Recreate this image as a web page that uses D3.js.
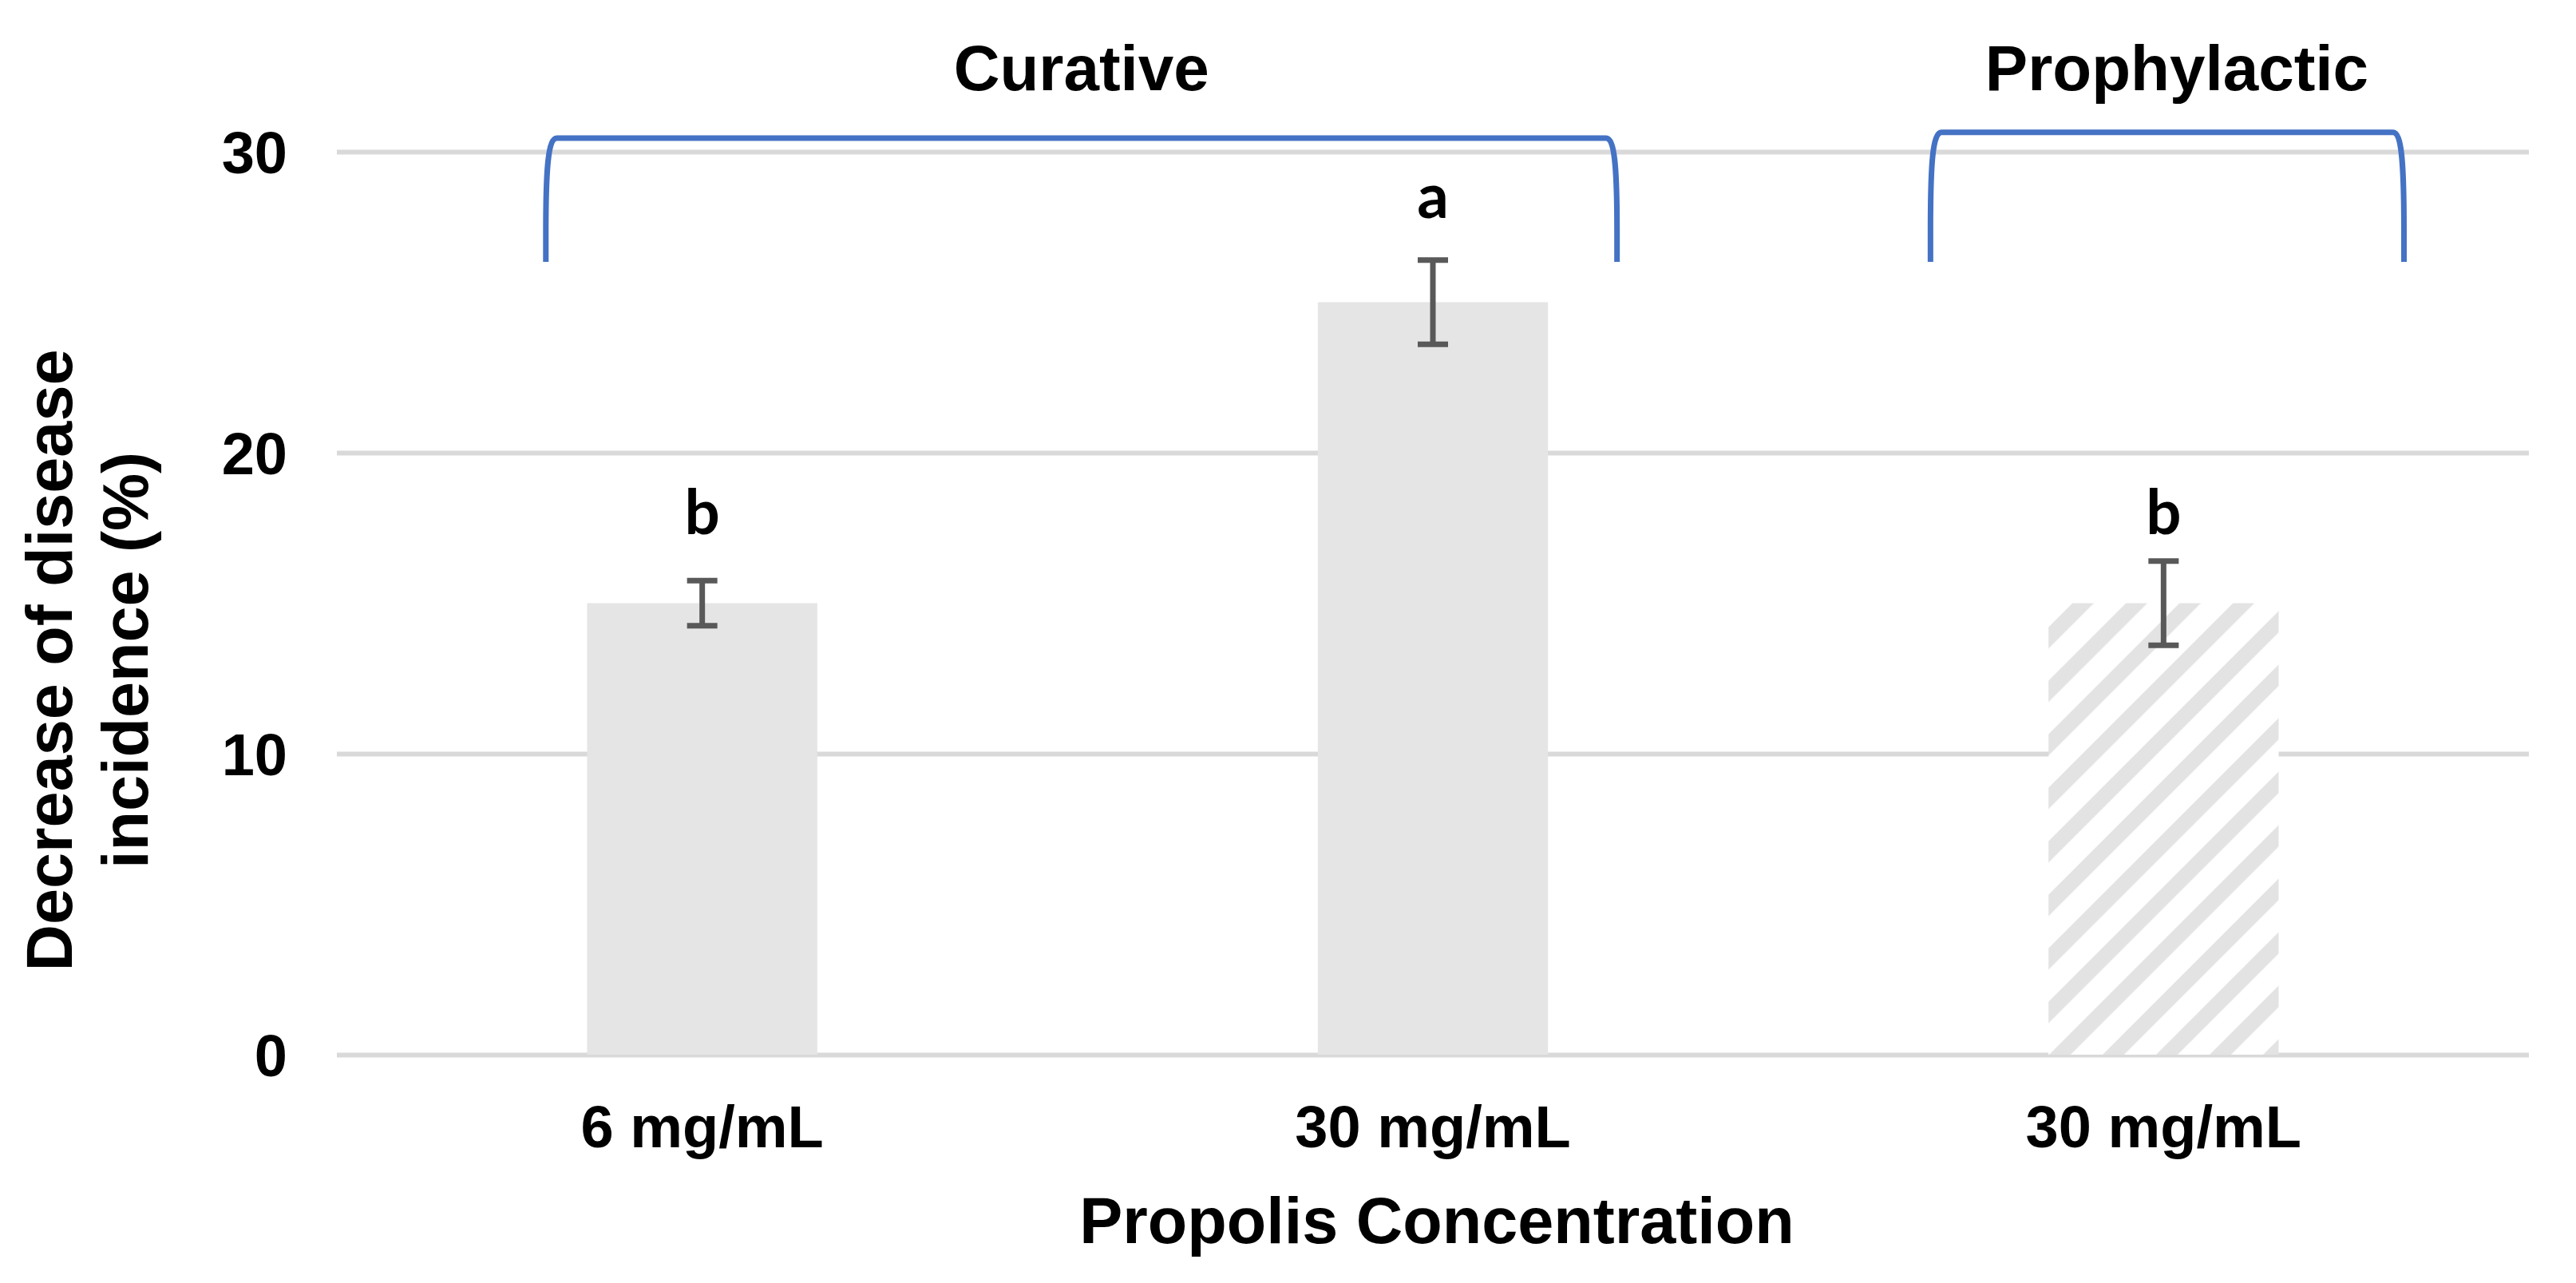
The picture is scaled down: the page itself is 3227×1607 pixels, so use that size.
<!DOCTYPE html>
<html>
<head>
<meta charset="utf-8">
<script src="https://cdn.jsdelivr.net/npm/d3@7"></script>
<style>
  html, body { margin: 0; padding: 0; background: #fff; }
  svg { display: block; }
</style>
</head>
<body>
<svg id="chart" width="3227" height="1607"></svg>
<script>
// ---- data ----
const categories = ["6 mg/mL", "30 mg/mL", "30 mg/mL"];
const values = [15.0, 25.0, 15.0];
const errors = [0.75, 1.4, 1.4];
const letters = ["b", "a", "b"];
const letterLevels = [17.3, 27.8, 17.3];     // data units where the letter sits
const hatched = [false, false, true];
const yTicks = [0, 10, 20, 30];
const groupLabels = ["Curative", "Prophylactic"];
const groupFrom = [-0.214, 1.681];            // in category-index units
const groupTo = [1.252, 2.329];
const groupTop = [30.45, 30.64];
const groupBottom = 26.34;
const groupTitleLevel = 32.04;

// ---- layout ----
const W = 3227, H = 1607;
const plotLeft = 422, plotRight = 3168;
const svg = d3.select("#chart");

const y = d3.scaleLinear().domain([0, 30]).range([1321, 190]);
const idx = d3.range(categories.length);
const x = d3.scaleBand().domain(idx).range([plotLeft, plotRight])
  .paddingInner(0.685).paddingOuter(0.3425);
const xc = d3.scaleLinear().domain([-0.5, categories.length - 0.5]).range([plotLeft, plotRight]);

// hatch pattern
const defs = svg.append("defs");
const per = 47.4;
const pat = defs.append("pattern")
  .attr("id", "hatch").attr("patternUnits", "userSpaceOnUse")
  .attr("width", per).attr("height", per)
  .attr("patternTransform", "rotate(45)");
pat.append("rect").attr("width", per).attr("height", per).attr("fill", "#ffffff");
pat.append("rect").attr("x", 0).attr("y", 0).attr("width", 19).attr("height", per).attr("fill", "#e3e3e3");

// gridlines
const yAxis = d3.axisLeft(y).tickValues(yTicks).tickSize(-(plotRight - plotLeft)).tickPadding(62).tickFormat(d3.format("d"));
const gy = svg.append("g").attr("transform", `translate(${plotLeft},0)`).call(yAxis);
gy.select(".domain").remove();
gy.selectAll(".tick line").attr("stroke", "#d9d9d9").attr("stroke-width", 6);
gy.selectAll(".tick text")
  .attr("font-family", "'Liberation Sans', Arial, sans-serif")
  .attr("font-weight", "bold").attr("font-size", 74).attr("fill", "#000")
  .attr("dy", "0.36em");

// bars
svg.append("g").selectAll("rect").data(idx).join("rect")
  .attr("x", i => x(i))
  .attr("y", i => y(values[i]))
  .attr("width", x.bandwidth())
  .attr("height", i => y(0) - y(values[i]))
  .attr("fill", i => hatched[i] ? "url(#hatch)" : "#e5e5e5");

// error bars
const eg = svg.append("g").attr("stroke", "#595959").attr("stroke-width", 7);
idx.forEach(i => {
  const cx = x(i) + x.bandwidth() / 2;
  const hi = y(values[i] + errors[i]), lo = y(values[i] - errors[i]);
  eg.append("line").attr("x1", cx).attr("x2", cx).attr("y1", hi).attr("y2", lo);
  eg.append("line").attr("x1", cx - 19).attr("x2", cx + 19).attr("y1", hi).attr("y2", hi);
  eg.append("line").attr("x1", cx - 19).attr("x2", cx + 19).attr("y1", lo).attr("y2", lo);
});

// significance letters
svg.append("g").selectAll("text").data(idx).join("text")
  .attr("x", i => x(i) + x.bandwidth() / 2)
  .attr("y", i => y(letterLevels[i]))
  .attr("text-anchor", "middle")
  .attr("font-family", "Lato, 'Open Sans', sans-serif")
  .attr("font-weight", "bold").attr("font-size", 78)
  .text(i => letters[i]);

// x axis labels
const xAxis = d3.axisBottom(x).tickSize(0).tickPadding(0).tickFormat(i => categories[i]);
const gx = svg.append("g").attr("transform", `translate(0,1437)`).call(xAxis);
gx.select(".domain").remove();
gx.selectAll(".tick text")
  .attr("dy", 0).attr("y", 0)
  .attr("font-family", "'Liberation Sans', Arial, sans-serif")
  .attr("font-weight", "bold").attr("font-size", 74).attr("fill", "#000");

// axis titles
svg.append("text")
  .attr("x", (plotLeft + plotRight) / 2 + 5).attr("y", 1557)
  .attr("text-anchor", "middle")
  .attr("font-family", "'Liberation Sans', Arial, sans-serif")
  .attr("font-weight", "bold").attr("font-size", 81)
  .text("Propolis Concentration");

const yt = svg.append("text")
  .attr("transform", "translate(0,827) rotate(-90)")
  .attr("text-anchor", "middle")
  .attr("font-family", "'Liberation Sans', Arial, sans-serif")
  .attr("font-weight", "bold").attr("font-size", 81);
yt.append("tspan").attr("x", 0).attr("y", 90).text("Decrease of disease");
yt.append("tspan").attr("x", 0).attr("y", 185).text("incidence (%)");

// group brackets
groupLabels.forEach((lab, g) => {
  const x0 = xc(groupFrom[g]), x1 = xc(groupTo[g]);
  const t = y(groupTop[g]), b = y(groupBottom);
  const p = d3.path();
  p.moveTo(x0, b);
  p.lineTo(x0, b - 40);
  p.bezierCurveTo(x0, t + 35, x0 + 3, t, x0 + 14, t);
  p.lineTo(x1 - 14, t);
  p.bezierCurveTo(x1 - 3, t, x1, t + 35, x1, b - 40);
  p.lineTo(x1, b);
  svg.append("path").attr("d", p.toString())
    .attr("fill", "none").attr("stroke", "#4472c4").attr("stroke-width", 7);
  svg.append("text")
    .attr("x", (x0 + x1) / 2 + (g === 1 ? 12 : 0)).attr("y", y(groupTitleLevel))
    .attr("text-anchor", "middle")
    .attr("font-family", "'Liberation Sans', Arial, sans-serif")
    .attr("font-weight", "bold").attr("font-size", 80)
    .text(lab);
});
</script>
</body>
</html>
